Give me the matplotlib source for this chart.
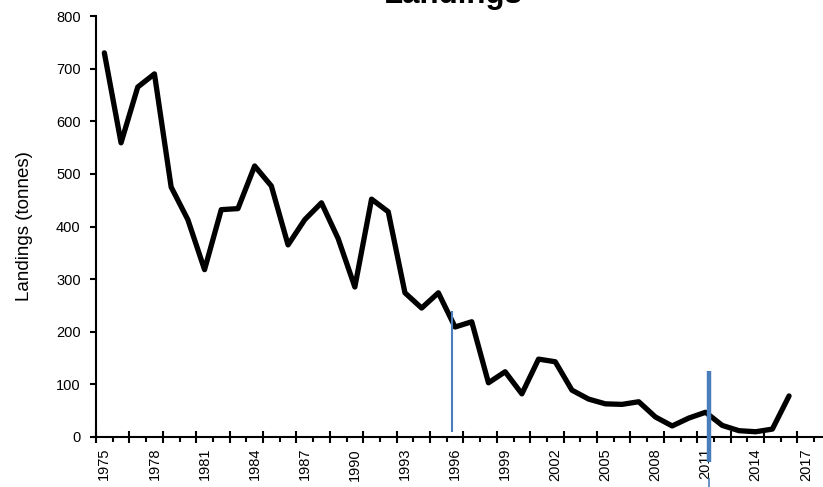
import numpy as np
import matplotlib
matplotlib.use("Agg")
import matplotlib.pyplot as plt
from matplotlib.ticker import FixedLocator

plt.rcParams['font.family'] = ['Liberation Sans', 'DejaVu Sans']

# categories on the axis (1975-2018), data up to 2016
years = list(range(1975, 2019))
landings = [730, 559, 665, 690, 475, 413, 318, 432, 434, 515,
            477, 365, 413, 445, 377, 285, 452, 428, 274, 245,
            274, 209, 219, 103, 124, 82, 148, 143, 89, 72,
            63, 62, 67, 38, 21, 36, 47, 22, 12, 10,
            15, 78]
tick_years = list(range(1975, 2018, 3))

# marker lines drawn on the chart (category position, y from, y to)
thin_marker = (20.82, 240, 10)
thick_marker = (36.22, 125, -48)
thick_tail = (36.22, -78, -100)

fig = plt.figure(figsize=(8.23, 4.87), dpi=100)
ax = fig.add_axes([96 / 823, 1 - 437 / 487, 44 * 16.7 / 823, 421 / 487])

x = np.arange(len(landings))
ax.plot(x, landings, color='black', lw=3.8, solid_joinstyle='round',
        solid_capstyle='round', zorder=3)

blue = '#4A7EBB'
ax.plot([thin_marker[0]] * 2, thin_marker[1:], color=blue, lw=1.5, zorder=4,
        clip_on=False, solid_capstyle='butt')
ax.plot([thick_marker[0]] * 2, thick_marker[1:], color=blue, lw=3.2, zorder=5,
        clip_on=False, solid_capstyle='butt')
ax.plot([thick_tail[0]] * 2, thick_tail[1:], color=blue, lw=1.2, zorder=5,
        clip_on=False, solid_capstyle='butt')

ax.set_xlim(-0.5, len(years) - 0.5)
ax.set_ylim(0, 800)
ax.set_yticks(range(0, 801, 100))

# labels at category centres, ticks at category boundaries
ax.xaxis.set_major_locator(FixedLocator(np.arange(-0.5, len(years), 2)))
ax.xaxis.set_minor_locator(FixedLocator(np.arange(0.5, len(years), 2)))
ax.set_xticklabels([])
for yr in tick_years:
    ax.text(years.index(yr), -0.026, str(yr), transform=ax.get_xaxis_transform(),
            rotation=90, ha='center', va='top', fontsize=10.5)

ax.tick_params(axis='x', which='major', direction='inout', length=8, width=1.5)
ax.tick_params(axis='x', which='minor', direction='out', length=3.5, width=1.5)
ax.tick_params(axis='y', direction='out', length=4.5, width=1.5, pad=6.5,
               labelsize=10.5)

for side in ('top', 'right'):
    ax.spines[side].set_visible(False)
for side in ('left', 'bottom'):
    ax.spines[side].set_linewidth(1.5)

ax.set_ylabel('Landings (tonnes)', fontsize=13.5)
ax.yaxis.set_label_coords(-0.086, 0.5)

fig.text(453 / 823, 1 - 3 / 487, 'Landings', ha='center', va='baseline',
         fontsize=22.5, fontweight='bold')

fig.savefig('out.png', dpi=100)
